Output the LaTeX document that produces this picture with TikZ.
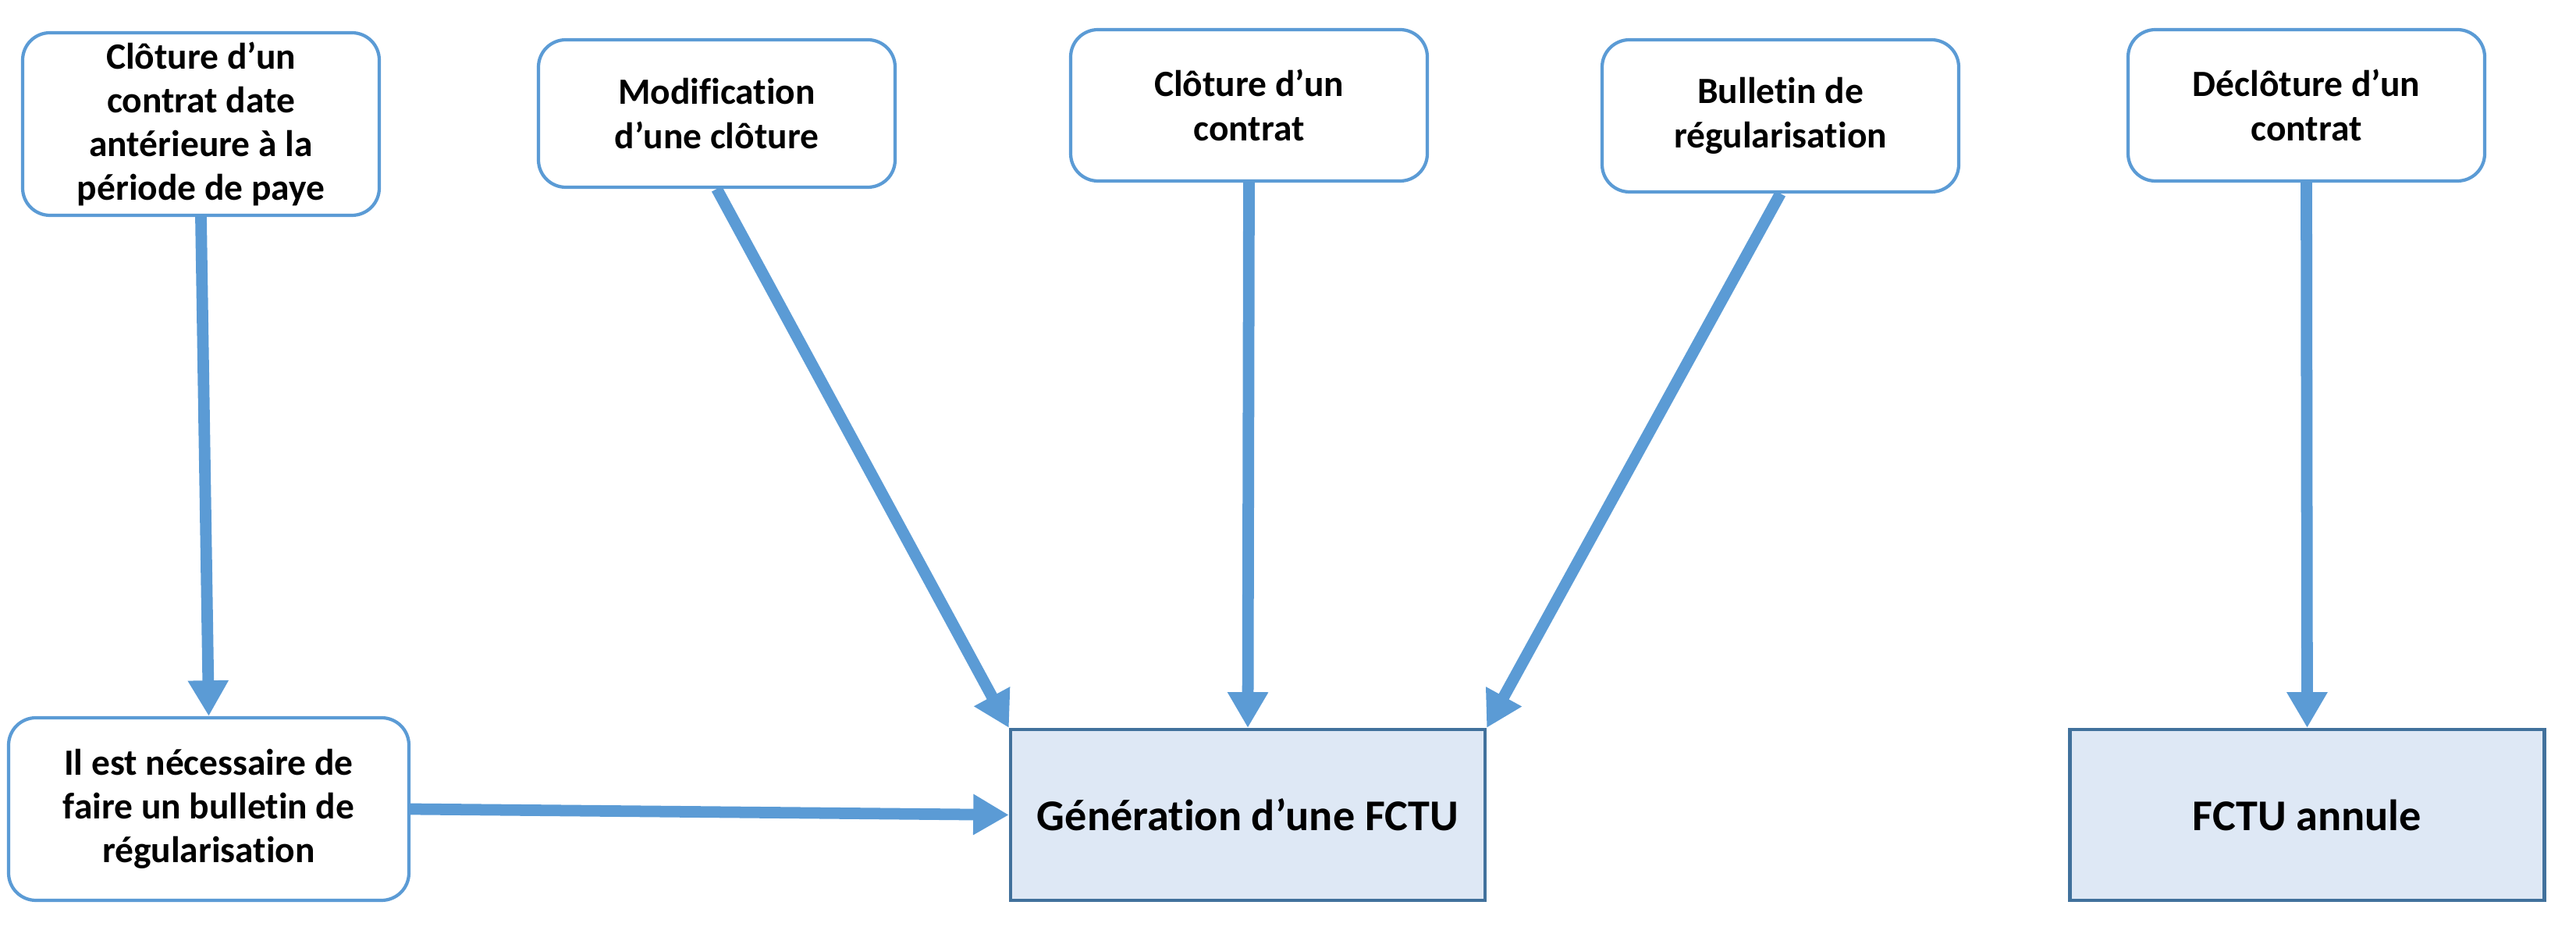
\documentclass[tikz,border=0pt]{standalone}
\usepackage{fontspec}
\setmainfont{Carlito}[Ligatures=CommonOff]
\usepackage{tikz}
\usetikzlibrary{positioning, arrows.meta}
\definecolor{flecheblue}{HTML}{5B9BD5}
\definecolor{bordblue}{HTML}{41719C}
\definecolor{fondblue}{HTML}{DEE8F5}

\begin{document}
\begin{tikzpicture}
	% 定义样式
	\tikzset{
		evenement/.style={
			rectangle, rounded corners=0.35cm,
			draw=flecheblue, line width=1.2pt, fill=white,
			align=center, inner sep=0pt,
			font=\fontsize{13.5}{16}\selectfont\bfseries,
			minimum width=4.57cm
		},
		resultat/.style={
			rectangle, draw=bordblue, fill=fondblue, line width=1.2pt,
			minimum width=6.08cm, minimum height=2.19cm,
			font=\fontsize{16}{19}\selectfont\bfseries
		},
		fleche/.style={
			draw=flecheblue, line width=4.2pt,
			-{Triangle[width=14pt,length=13pt]}
		}
	}
	\useasboundingbox (0,0) rectangle (33.01,11.92);
	
	% 上方的事件
	\node[evenement, minimum height=2.34cm] (anterieure) at (2.575,10.33) {Clôture d’un\\contrat date\\antérieure à la\\période de paye};
	\node[evenement, minimum height=1.89cm] (modif) at (9.185,10.465) {Modification\\d’une clôture};
	\node[evenement, minimum height=1.94cm] (cloture) at (16.005,10.57) {Clôture d’un\\contrat};
	\node[evenement, minimum height=1.95cm] (bulletin) at (22.815,10.435) {Bulletin de\\régularisation};
	\node[evenement, minimum height=1.94cm] (decloture) at (29.555,10.57) {Déclôture d’un\\contrat};
	
	% 下方的结果
	\node[evenement, minimum width=5.13cm, minimum height=2.34cm] (necessaire) at (2.675,1.55) {Il est nécessaire de\\faire un bulletin de\\régularisation};
	\node[resultat] (fctu) at (15.99,1.475) {Génération d’une FCTU};
	\node[resultat] (annule) at (29.565,1.475) {FCTU annule};
	
	% 箭头
	\draw[fleche] (anterieure.south) -- (necessaire.north);
	\draw[fleche] (necessaire.east) -- (fctu.west);
	\draw[fleche] (modif.south) -- (fctu.north west);
	\draw[fleche] (cloture.south) -- (fctu.north);
	\draw[fleche] (bulletin.south) -- (fctu.north east);
	\draw[fleche] (decloture.south) -- (annule.north);
\end{tikzpicture}
\end{document}
